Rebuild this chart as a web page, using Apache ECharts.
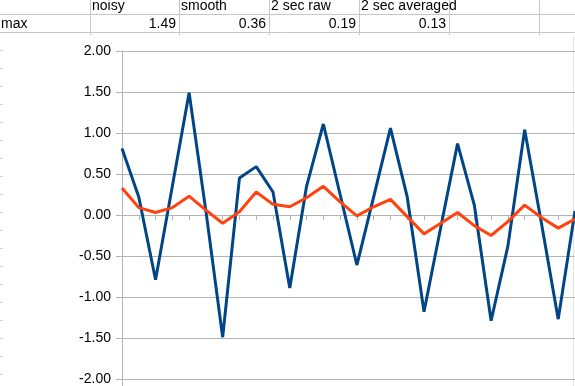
<!DOCTYPE html>
<html>
<head>
<meta charset="utf-8">
<script src="https://cdn.jsdelivr.net/npm/echarts@6/dist/echarts.min.js"></script>
<style>
html,body{margin:0;padding:0;background:#fff;}
#chart{width:575px;height:386px;}
</style>
</head>
<body>
<div id="chart"></div>
<script>
// ---- data ----
const categories = ['1','2','3','4','5','6','7','8','9','10','11','12','13','14','15','16','17','18','19','20','21','22','23','24','25','26','27','28'];
const noisy  = [0.81, 0.22, -0.79, 0.35, 1.49, 0.05, -1.49, 0.45, 0.59, 0.28, -0.89, 0.35, 1.11, 0.25, -0.61, 0.22, 1.06, 0.22, -1.18, -0.15, 0.87, 0.12, -1.29, -0.38, 1.04, -0.10, -1.27, 0.05];
const smooth = [0.33, 0.09, 0.03, 0.09, 0.23, 0.06, -0.10, 0.04, 0.28, 0.13, 0.10, 0.21, 0.35, 0.16, -0.01, 0.10, 0.19, -0.02, -0.23, -0.10, 0.03, -0.13, -0.25, -0.08, 0.12, -0.03, -0.16, -0.05];
const tableHeaders = ['noisy', 'smooth', '2 sec raw', '2 sec averaged'];
const tableRowLabel = 'max';
const tableValues = ['1.49', '0.36', '0.19', '0.13'];
const yTicks = [-2, -1.5, -1, -0.5, 0, 0.5, 1, 1.5, 2];

// ---- spreadsheet decoration (table above the chart) ----
const FONT = '"Liberation Sans", Arial, sans-serif';
const gridColor = '#c7c7c7';
const colEdges = [90, 179, 269, 359, 449, 539];
const graphics = [];
// row lines
[14.5, 32.5].forEach(function (y) {
  graphics.push({type:'line', shape:{x1:0, y1:y, x2:575, y2:y}, style:{stroke:gridColor, lineWidth:1}});
});
// column lines
colEdges.forEach(function (x) {
  graphics.push({type:'line', shape:{x1:x+0.5, y1:0, x2:x+0.5, y2:35}, style:{stroke:gridColor, lineWidth:1}});
});
// spreadsheet row lines peeking left of the chart
for (let y = 50.5; y < 386; y += 18) {
  graphics.push({type:'line', shape:{x1:0, y1:y, x2:3, y2:y}, style:{stroke:'#d0d0d0', lineWidth:1}});
}
// chart object right edge
graphics.push({type:'line', shape:{x1:573.5, y1:36, x2:573.5, y2:386}, style:{stroke:'#e2e2e2', lineWidth:1}, z:-1});
// y axis continues below the plot
graphics.push({type:'line', shape:{x1:122.5, y1:379, x2:122.5, y2:386}, style:{stroke:'#b3b3b3', lineWidth:1}});
// header texts
tableHeaders.forEach(function (t, i) {
  graphics.push({type:'text', x: colEdges[i] + 2, y: 6.5, style:{text:t, font:'14px ' + FONT, fill:'#000', textAlign:'left', textVerticalAlign:'middle'}});
});
graphics.push({type:'text', x: 1, y: 24, style:{text:tableRowLabel, font:'14px ' + FONT, fill:'#000', textAlign:'left', textVerticalAlign:'middle'}});
tableValues.forEach(function (t, i) {
  graphics.push({type:'text', x: colEdges[i+1] - 3, y: 24, style:{text:t, font:'14px ' + FONT, fill:'#000', textAlign:'right', textVerticalAlign:'middle'}});
});

const chart = echarts.init(document.getElementById('chart'), null, {renderer:'canvas'});
chart.setOption({
  animation: false,
  backgroundColor: '#fff',
  graphic: graphics,
  grid: {left:122, right:0, top:51, bottom:7, containLabel:false},
  xAxis: {
    type:'category',
    data: categories,
    boundaryGap:false,
    axisLine:{show:true, onZero:true, lineStyle:{color:'#b3b3b3', width:1}},
    axisTick:{show:true, interval:0, length:5, lineStyle:{color:'#b3b3b3'}},
    axisLabel:{show:false},
    splitLine:{show:false}
  },
  yAxis: {
    type:'value',
    min: yTicks[0],
    max: yTicks[yTicks.length-1],
    interval: 0.5,
    axisLine:{show:true, lineStyle:{color:'#b3b3b3', width:1}},
    axisTick:{show:true, length:6, lineStyle:{color:'#b3b3b3'}},
    splitLine:{show:true, lineStyle:{color:'#b3b3b3', width:1}},
    axisLabel:{
      color:'#000', fontSize:14, fontFamily:'Liberation Sans', margin:11,
      formatter:function (v) { return v.toFixed(2); }
    }
  },
  series: [
    {name:'noisy', type:'line', data:noisy, symbol:'none', lineStyle:{color:'#004586', width:3}, itemStyle:{color:'#004586'}},
    {name:'smooth', type:'line', data:smooth, symbol:'none', lineStyle:{color:'#ff420e', width:3}, itemStyle:{color:'#ff420e'}}
  ]
});
</script>
</body>
</html>
